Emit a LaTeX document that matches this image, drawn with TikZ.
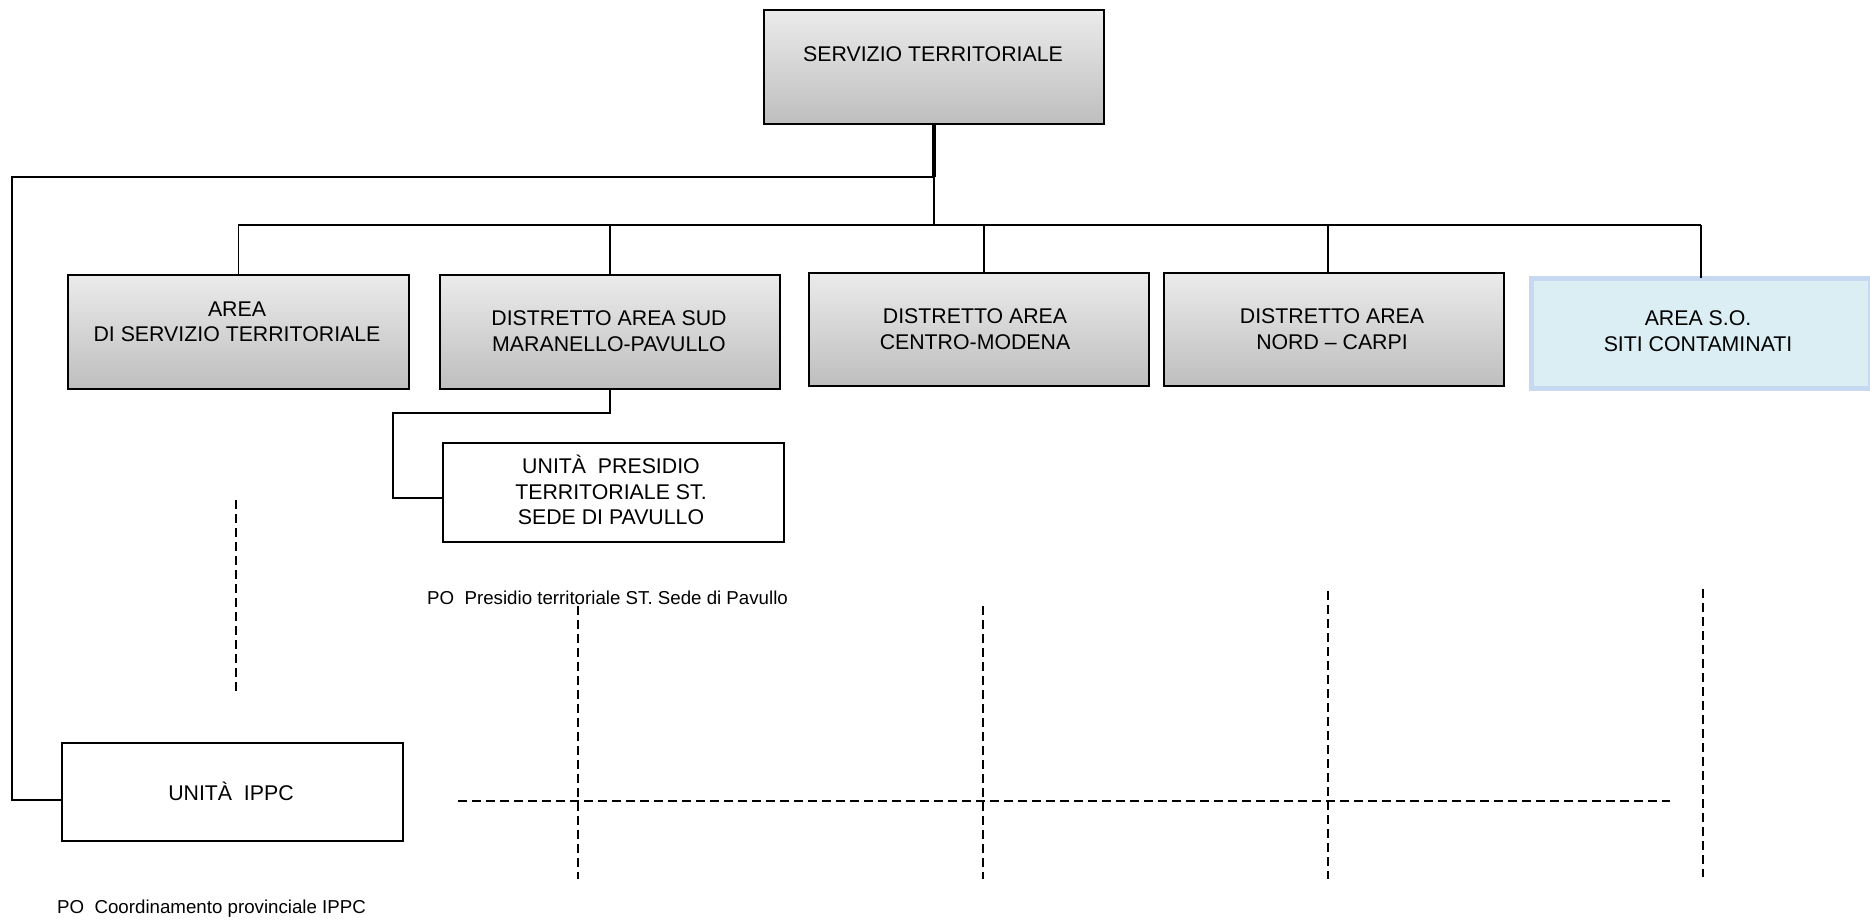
\documentclass[tikz,border=0pt]{standalone}
\usepackage{fontspec}
\setmainfont{Liberation Sans}
\definecolor{gtop}{HTML}{EBEBEB}
\definecolor{gbot}{HTML}{BEBEBE}
\definecolor{bluefill}{HTML}{DAEEF3}
\definecolor{blueline}{HTML}{C6D9F1}
\begin{document}
\begin{tikzpicture}[x=1pt,y=-1pt,
  grbox/.style={draw=black, line width=1.8pt, top color=gtop, bottom color=gbot, inner sep=0pt, anchor=north west},
  whbox/.style={draw=black, line width=1.8pt, fill=white, inner sep=0pt, anchor=north west},
  bluebox/.style={draw=blueline, line width=5pt, fill=bluefill, inner sep=0pt, anchor=north west},
  lbl/.style={align=center, font=\fontsize{21.3}{25.5}\selectfont, inner sep=0pt},
  small/.style={font=\fontsize{18.7}{22}\selectfont, inner sep=0pt, anchor=west},
  conn/.style={draw=black, line width=1.6pt},
  dsh/.style={draw=black, line width=1.8pt, dash pattern=on 9pt off 5pt}]
\useasboundingbox (0,0) rectangle (1870,921);

% boxes
\node[grbox, minimum width=340pt, minimum height=114pt] (top) at (763,9) {};
\node[grbox, minimum width=341pt, minimum height=114pt] (b1) at (67,274) {};
\node[grbox, minimum width=340pt, minimum height=114pt] (b2) at (439,274) {};
\node[grbox, minimum width=340pt, minimum height=113pt] (b3) at (808,272) {};
\node[grbox, minimum width=340pt, minimum height=113pt] (b4) at (1163,272) {};
\node[bluebox, minimum width=339pt, minimum height=110pt] (b5) at (1529,275.5) {};
\node[whbox, minimum width=341pt, minimum height=99pt] (sub) at (442,442) {};
\node[whbox, minimum width=341pt, minimum height=98pt] (ippc) at (61,742) {};

% texts
\node[lbl] (ttop) at (933,54) {SERVIZIO TERRITORIALE};
\node[lbl] (t1) at (237,322) {AREA\\DI SERVIZIO TERRITORIALE};
\node[lbl] (t2) at (609,331) {DISTRETTO AREA SUD\\MARANELLO-PAVULLO};
\node[lbl] (t3) at (975,329) {DISTRETTO AREA\\CENTRO-MODENA};
\node[lbl] (t4) at (1332,329) {DISTRETTO AREA\\NORD -- CARPI};
\node[lbl] (t5) at (1698,331) {AREA S.O.\\SITI CONTAMINATI};
\node[lbl] (tsub) at (611,490) {UNITÀ\ \ PRESIDIO\\TERRITORIALE ST.\\SEDE DI PAVULLO};
\node[lbl] (tippc) at (231,791) {UNITÀ\ \ IPPC};
\node[small] (po1) at (427,598) {PO\ \ Presidio territoriale ST. Sede di Pavullo};
\node[small] (po2) at (57,909) {PO\ \ Coordinamento provinciale IPPC};

% connectors
\coordinate (j1) at (top.south |- 0,177);
\coordinate (bus) at (top.south |- 0,225);
\coordinate (lft) at (12,177);
\draw[draw=black, line width=3.5pt] (top.south) -- (j1);
\draw[conn] (j1) -- (bus);
\draw[conn] (j1) -- (lft) |- ([yshift=-8pt]ippc.west);
\draw[conn] (b1.north |- bus) -- (b5.north |- bus);
\draw[conn] (b1.north |- bus) -- (b1.north);
\draw[conn] (b2.north |- bus) -- (b2.north);
\draw[conn] ([xshift=5pt]b3.north |- bus) -- ([xshift=5pt]b3.north);
\draw[conn] ([xshift=-6pt]b4.north |- bus) -- ([xshift=-6pt]b4.north);
\draw[conn] (b5.north |- bus) -- ([yshift=-2.5pt]b5.north);
\draw[conn] (b2.south) |- (393,413) |- ([yshift=-5.5pt]sub.west);

% dashed lines
\draw[dsh] (236,500) -- (236,694);
\draw[dsh] (458,801) -- (1670,801);
\draw[dsh] (578,606) -- (578,879);
\draw[dsh] (983,606) -- (983,879);
\draw[dsh] (1328,591) -- (1328,879);
\draw[dsh] (1703,589) -- (1703,877);
\end{tikzpicture}
\end{document}
